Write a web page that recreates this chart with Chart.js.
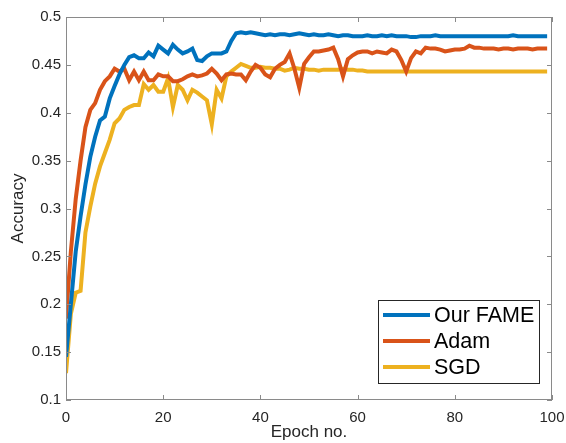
<!DOCTYPE html>
<html>
<head>
<meta charset="UTF-8">
<title>Accuracy vs epoch</title>
<script src="https://cdn.jsdelivr.net/npm/chart.js"></script>
<style>
  html, body { margin: 0; padding: 0; background: #fff; }
  #wrap { width: 566px; height: 443px; }
</style>
</head>
<body>
<div id="wrap"><canvas id="grafico"></canvas></div>
<script>
// epochs 0..99
var epocas = [];
for (var i = 0; i < 100; i++) epocas.push(i);

var nomes = ['Our FAME', 'Adam', 'SGD'];
var cores = ['#0072BD', '#D95319', '#EDB120'];

var fame = [
  0.145, 0.200, 0.255, 0.292, 0.325, 0.354, 0.375, 0.392, 0.396, 0.415,
  0.428, 0.440, 0.450, 0.458, 0.460, 0.457, 0.457, 0.463, 0.459, 0.470,
  0.466, 0.462, 0.471, 0.466, 0.462, 0.464, 0.467, 0.455, 0.454, 0.459,
  0.462, 0.462, 0.462, 0.464, 0.475, 0.483, 0.484, 0.483, 0.484, 0.483,
  0.482, 0.481, 0.482, 0.481, 0.482, 0.482, 0.481, 0.482, 0.483, 0.482,
  0.481, 0.482, 0.481, 0.481, 0.482, 0.481, 0.480, 0.481, 0.481, 0.480,
  0.480, 0.480, 0.481, 0.480, 0.480, 0.481, 0.480, 0.481, 0.480, 0.480,
  0.480, 0.479, 0.479, 0.480, 0.480, 0.480, 0.481, 0.480, 0.480, 0.480,
  0.480, 0.480, 0.480, 0.480, 0.480, 0.480, 0.480, 0.480, 0.480, 0.480,
  0.480, 0.480, 0.481, 0.480, 0.480, 0.480, 0.480, 0.480, 0.480, 0.480
];

var adam = [
  0.185, 0.255, 0.310, 0.350, 0.385, 0.403, 0.410, 0.424, 0.433, 0.438,
  0.446, 0.443, 0.446, 0.434, 0.443, 0.434, 0.443, 0.434, 0.434, 0.440,
  0.438, 0.438, 0.433, 0.433, 0.435, 0.438, 0.440, 0.438, 0.439, 0.441,
  0.446, 0.441, 0.434, 0.440, 0.441, 0.440, 0.440, 0.434, 0.443, 0.450,
  0.447, 0.440, 0.437, 0.446, 0.450, 0.453, 0.462, 0.446, 0.426, 0.451,
  0.458, 0.464, 0.464, 0.465, 0.466, 0.468, 0.456, 0.438, 0.456, 0.460,
  0.463, 0.464, 0.464, 0.462, 0.464, 0.463, 0.462, 0.466, 0.464, 0.455,
  0.443, 0.457, 0.464, 0.462, 0.468, 0.467, 0.467, 0.466, 0.464, 0.465,
  0.466, 0.466, 0.467, 0.470, 0.468, 0.468, 0.467, 0.467, 0.467, 0.466,
  0.467, 0.467, 0.466, 0.467, 0.467, 0.467, 0.466, 0.467, 0.467, 0.467
];

var sgd = [
  0.128, 0.190, 0.212, 0.214, 0.275, 0.302, 0.326, 0.344, 0.358, 0.372,
  0.389, 0.394, 0.403, 0.406, 0.408, 0.408, 0.430, 0.424, 0.429, 0.422,
  0.422, 0.436, 0.406, 0.429, 0.424, 0.413, 0.424, 0.421, 0.417, 0.413,
  0.388, 0.424, 0.415, 0.438, 0.443, 0.447, 0.451, 0.449, 0.447, 0.447,
  0.448, 0.447, 0.447, 0.446, 0.446, 0.444, 0.445, 0.447, 0.446, 0.446,
  0.445, 0.445, 0.444, 0.445, 0.445, 0.445, 0.445, 0.446, 0.445, 0.445,
  0.444, 0.444, 0.443, 0.443, 0.443, 0.443, 0.443, 0.443, 0.443, 0.443,
  0.443, 0.443, 0.443, 0.443, 0.443, 0.443, 0.443, 0.443, 0.443, 0.443,
  0.443, 0.443, 0.443, 0.443, 0.443, 0.443, 0.443, 0.443, 0.443, 0.443,
  0.443, 0.443, 0.443, 0.443, 0.443, 0.443, 0.443, 0.443, 0.443, 0.443
];

var ticksX = [0, 20, 40, 60, 80, 100];
var ticksY = [0.1, 0.15, 0.2, 0.25, 0.3, 0.35, 0.4, 0.45, 0.5];

var series = [fame, adam, sgd];
var datasets = [];
for (let s = 0; s < series.length; s++) {
  datasets.push({
    label: nomes[s],
    data: epocas.map((e, i) => ({ x: e, y: series[s][i] })),
    borderColor: cores[s],
    backgroundColor: cores[s],
    borderWidth: 4,
    pointRadius: 0,
    tension: 0,
    order: s
  });
}

var corEixo = '#8a8a8a';
var corTexto = '#262626';

// box round the axes with inward ticks, matlab style
const caixa = {
  id: 'caixa',
  afterDatasetsDraw(chart) {
    const ctx = chart.ctx, a = chart.chartArea;
    const sx = chart.scales.x, sy = chart.scales.y;
    ctx.save();
    ctx.strokeStyle = corEixo;
    ctx.lineWidth = 1;
    ctx.strokeRect(a.left + 0.5, a.top + 0.5, a.right - a.left - 1, a.bottom - a.top - 1);
    ctx.beginPath();
    ticksX.forEach(v => {
      const px = Math.round(sx.getPixelForValue(v)) + 0.5;
      ctx.moveTo(px, a.bottom); ctx.lineTo(px, a.bottom - 5);
      ctx.moveTo(px, a.top); ctx.lineTo(px, a.top + 5);
    });
    ticksY.forEach(v => {
      const py = Math.round(sy.getPixelForValue(v)) + 0.5;
      ctx.moveTo(a.left, py); ctx.lineTo(a.left + 5, py);
      ctx.moveTo(a.right, py); ctx.lineTo(a.right - 5, py);
    });
    ctx.stroke();
    ctx.restore();
  },
  afterDraw(chart) {
    // legend box, lower right inside the axes
    const ctx = chart.ctx;
    const x0 = 378, y0 = 300, w = 161, h = 83;
    ctx.save();
    ctx.fillStyle = '#fff';
    ctx.fillRect(x0, y0, w, h);
    ctx.strokeStyle = '#262626';
    ctx.lineWidth = 1;
    ctx.strokeRect(x0 + 0.5, y0 + 0.5, w, h);
    ctx.font = '21.5px "Liberation Sans", Arial, sans-serif';
    ctx.textBaseline = 'middle';
    chart.data.datasets.forEach((d, i) => {
      const yy = y0 + 15 + i * 26;
      ctx.strokeStyle = d.borderColor;
      ctx.lineWidth = 4;
      ctx.beginPath();
      ctx.moveTo(x0 + 5, yy); ctx.lineTo(x0 + 52, yy);
      ctx.stroke();
      ctx.fillStyle = '#000';
      ctx.fillText(d.label, x0 + 56, yy + 1);
    });
    ctx.restore();
  }
};

Chart.defaults.font.family = '"Liberation Sans", Arial, sans-serif';
Chart.defaults.color = corTexto;

const grafico = new Chart(document.getElementById('grafico'), {
  type: 'line',
  data: { datasets: datasets },
  options: {
    responsive: true,
    maintainAspectRatio: false,
    animation: false,
    layout: { padding: { top: 17, right: 14, left: 0, bottom: 0 } },
    plugins: { legend: { display: false }, tooltip: { enabled: false } },
    scales: {
      x: {
        type: 'linear',
        min: 0, max: 100,
        afterBuildTicks: s => { s.ticks = ticksX.map(v => ({ value: v })); },
        afterFit: s => { s.height = 43; s.paddingLeft = 0; s.paddingRight = 0; },
        grid: { display: false, drawTicks: false },
        border: { display: false },
        ticks: { font: { size: 15 }, padding: 9, color: corTexto, maxRotation: 0 },
        title: { display: true, text: 'Epoch no.', font: { size: 17 }, color: corTexto, padding: { bottom: 0 } }
      },
      y: {
        min: 0.1, max: 0.5,
        afterBuildTicks: s => { s.ticks = ticksY.map(v => ({ value: v })); },
        afterFit: s => { s.width = 66; s.paddingTop = 0; s.paddingBottom = 0; },
        grid: { display: false, drawTicks: false },
        border: { display: false },
        ticks: { font: { size: 15 }, padding: 5, color: corTexto, callback: v => String(+v.toFixed(2)) },
        title: { display: true, text: 'Accuracy', font: { size: 17 }, color: corTexto, padding: { top: 8 } }
      }
    }
  },
  plugins: [caixa]
});
</script>
</body>
</html>
